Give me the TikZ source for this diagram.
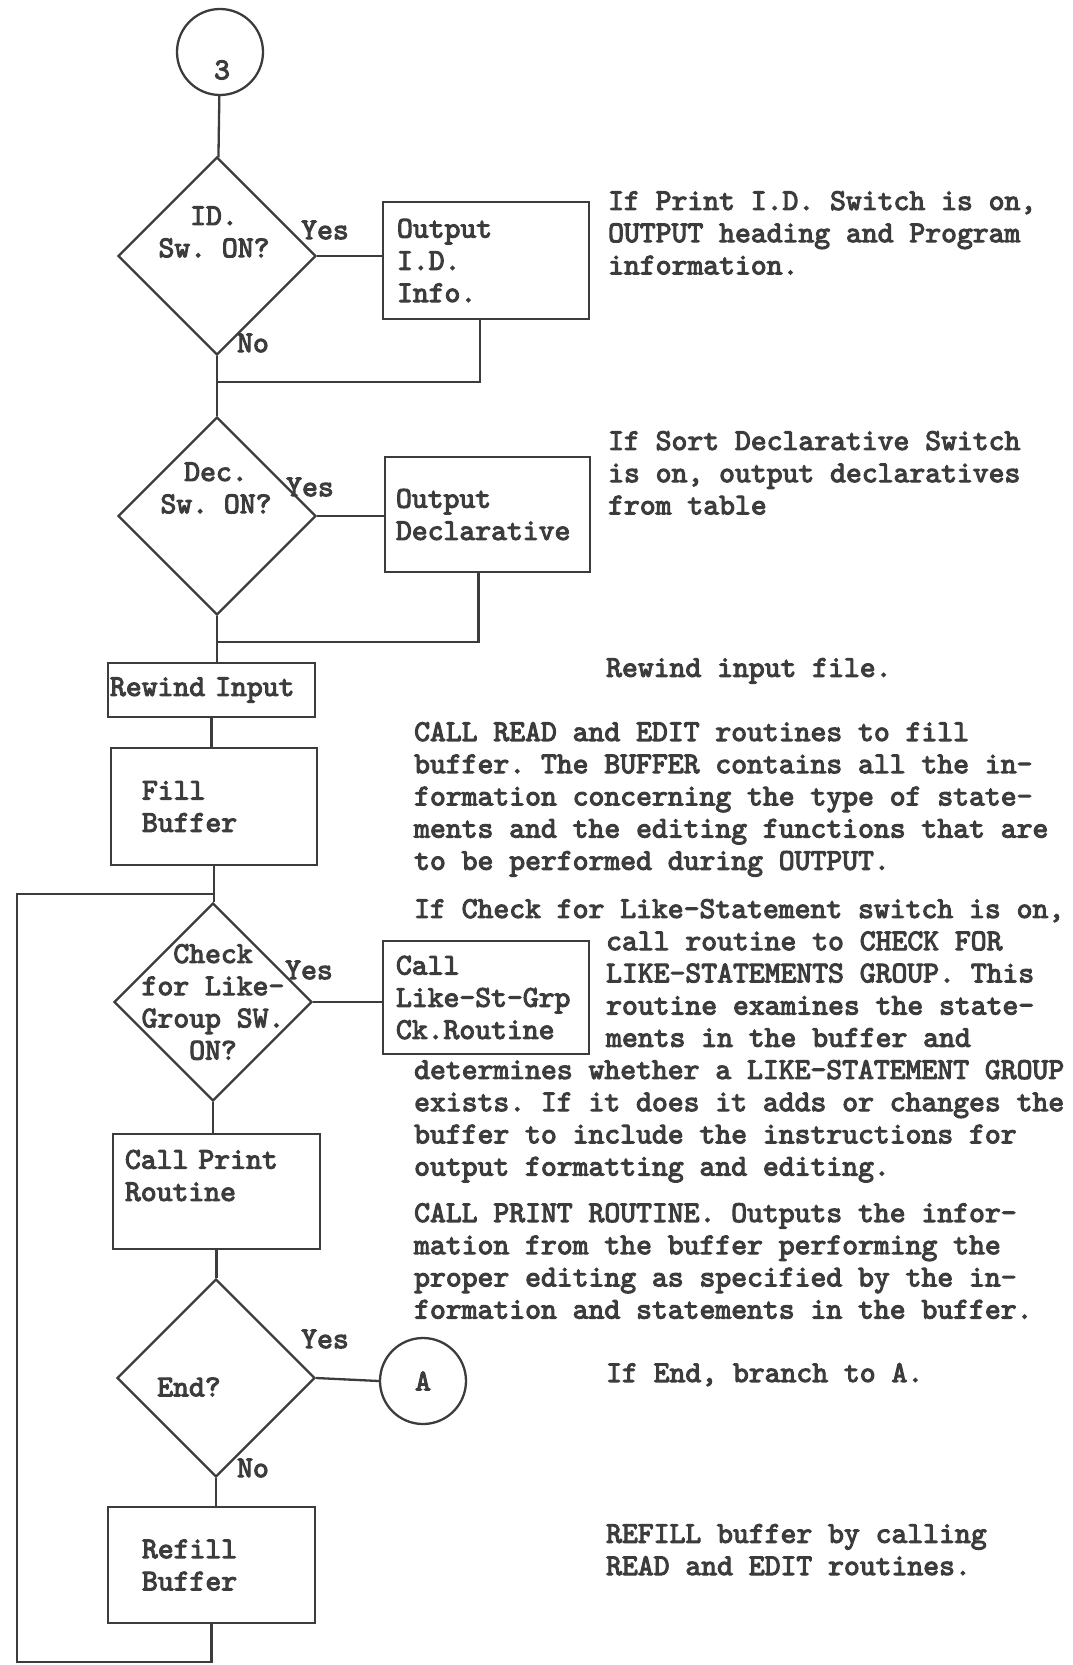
\documentclass[tikz,border=0pt]{standalone}
\usepackage{fontspec}
\setmainfont{lmmono10-regular.otf}[FakeBold=3.5]
\usepackage{tikz}
\usetikzlibrary{shapes.geometric}
\definecolor{ink}{RGB}{60,60,60}
\frenchspacing

\begin{document}
\begin{tikzpicture}[x=1pt,y=-1pt,line width=2.3pt,color=ink,
	font=\fontsize{30.2}{32.2}\selectfont,
	decision/.style={diamond,draw,minimum width=198pt,minimum height=198pt,inner sep=0pt},
	connector/.style={circle,draw,minimum size=86pt,inner sep=0pt},
	procbox/.style={rectangle,draw,align=left,inner ysep=0pt},
	note/.style={anchor=north west,align=left,inner sep=0pt}]
\useasboundingbox (0,0) rectangle (1073,1665);
% flow chart column
\node (c3) [connector] at (220,52) {};
\node (c3t) at (222,70) {3};
\node (d1) [decision] at (217,256) {};
\node (d1t) [align=center] at (214,232) {ID.\\Sw. ON?};
\node (out1) [procbox,text width=178pt,inner xsep=14pt,minimum height=117pt] at (486,260.5) {Output\\I.D.\\Info.};
\node (d2) [decision] at (217,516) {};
\node (d2t) [align=center] at (216,488) {Dec.\\Sw. ON?};
\node (out2) [procbox,text width=183pt,inner xsep=11pt,minimum height=115pt] at (487.5,514.5) {Output\\Declarative};
\node (rew) [procbox,text width=203pt,inner xsep=2pt,minimum height=54pt] at (211.5,690) {Rewind Input};
\node (fill) [procbox,text width=144pt,inner xsep=31pt,minimum height=117pt] at (214,806.5) {Fill\\Buffer};
\node (d3) [decision] at (213,1002) {};
\node (d3t) [align=center] at (213,1002) {Check\\for Like-\\Group SW.\\ON?};
\node (chk) [procbox,text width=180pt,inner xsep=13pt,minimum height=113pt] at (486,997.5) {Call\\Like-St-Grp\\Ck.Routine};
\node (prt) [procbox,text width=183pt,inner xsep=12pt,minimum height=115pt] at (216.5,1191.5) {Call Print\\Routine\\~};
\node (end) [decision] at (216,1378) {};
\node (endt) at (189,1387) {End?};
\node (ca) [connector] at (423,1381) {A};
\node (rf) [procbox,text width=139pt,inner xsep=34pt,minimum height=116pt] at (211.5,1565) {Refill\\Buffer};
% branch labels
\node (y1) at (325,230) {Yes};
\node (n1) at (253,343) {No};
\node (y2) at (310,487) {Yes};
\node (y3) at (309,970) {Yes};
\node (y4) at (325,1339) {Yes};
\node (n4) at (253,1468) {No};
% lines
\draw (c3) -- (d1);
\draw (d1.east) -- (d1.east -| out1.west);
\coordinate (j1) at (217,382);
\draw ([xshift=-6pt]out1.south) |- (j1);
\draw (d1.south) -- (d2.north);
\draw (d2.east) -- (d2.east -| out2.west);
\coordinate (j2) at (217,642);
\draw ([xshift=-9pt]out2.south) |- (j2);
\draw (d2.south) -- (d2.south |- rew.north);
\draw (rew.south) -- (rew.south |- fill.north);
\draw (fill.south) -- (fill.south |- d3.north);
\coordinate (j3) at (213,894);
\draw (d3.east) -- (d3.east -| chk.west);
\draw (d3.south) -- (d3.south |- prt.north);
\draw (prt.south) -- (prt.south |- end.north);
\draw (end.east) -- (ca.west);
\draw (end.south) -- (end.south |- rf.north);
\coordinate (lb) at (17,1662);
\draw (rf.south) |- (lb) |- (j3);
% remarks
\node (r1) [note] at (607,190) {If Print I.D. Switch is on,\\OUTPUT heading and Program\\information.};
\node (r2) [note] at (607,430) {If Sort Declarative Switch\\is on, output declaratives\\from table};
\node (r3) [note] at (605,657) {Rewind input file.};
\node (r4) [note] at (413,721) {CALL READ and EDIT routines to fill\\buffer. The BUFFER contains all the in-\\formation concerning the type of state-\\ments and the editing functions that are\\to be performed during OUTPUT.};
\node (r5) [note] at (413,898) {If Check for Like-Statement switch is on,\\\hspace*{192pt}call routine to CHECK FOR\\\hspace*{192pt}LIKE-STATEMENTS GROUP. This\\\hspace*{192pt}routine examines the state-\\\hspace*{192pt}ments in the buffer and\\determines whether a LIKE-STATEMENT GROUP\\exists. If it does it adds or changes the\\buffer to include the instructions for\\output formatting and editing.};
\node (r6) [note] at (413,1202) {CALL PRINT ROUTINE. Outputs the infor-\\mation from the buffer performing the\\proper editing as specified by the in-\\formation and statements in the buffer.};
\node (r7) [note] at (605,1362) {If End, branch to A.};
\node (r8) [note] at (605,1523) {REFILL buffer by calling\\READ and EDIT routines.};
\end{tikzpicture}
\end{document}
